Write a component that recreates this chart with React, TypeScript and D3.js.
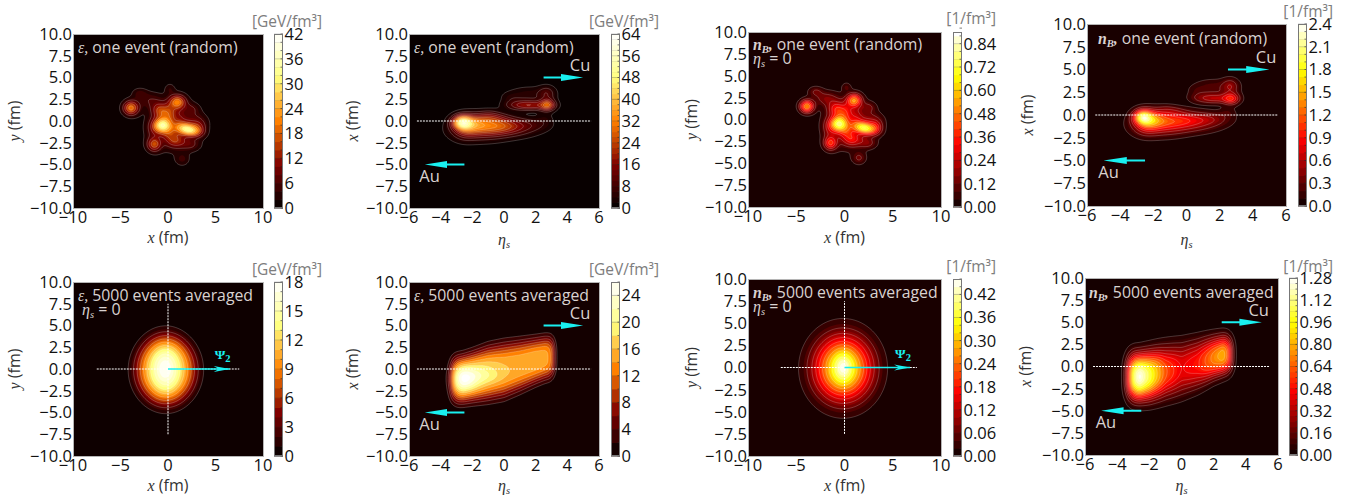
import React from "react";
import * as d3 from "d3";

// ---- DATA ----
// blobs: [x, y, sigmaX, sigmaY, peak, rotationDeg]
const epsEventXY = [
  [-3.9, 1.5, 0.54, 0.54, 21, 0], [-0.6, -0.5, 0.6, 0.58, 30, 0], [1.0, 2.2, 0.58, 0.52, 20, 0],
  [2.1, -1.0, 0.85, 0.42, 30, -15], [-0.8, 1.2, 0.62, 0.55, 13, -30], [0.2, 0.9, 0.45, 0.75, 8, 0],
  [-1.45, -2.7, 0.48, 0.52, 16, 0], [3.3, -0.8, 0.5, 0.55, 6, 0], [1.5, -4.4, 0.5, 0.5, 4.5, 0],
  [0.2, 3.7, 0.35, 0.4, 4, 0], [-3.0, 3.2, 0.55, 0.4, 4.5, 0], [-1.9, 2.4, 0.9, 0.6, 5, 0],
  [0.8, -2.3, 0.7, 0.55, 10, 0], [2.4, -2.7, 0.7, 0.5, 6, 0], [0.2, -1.4, 0.5, 0.55, 6, 0],
  [2.5, 1.4, 0.55, 0.45, 5, 0], [-1.6, -1.0, 0.45, 0.8, 4, 0], [1.2, 0.3, 0.45, 0.9, 4, 0],
  [0.3, -0.5, 1.7, 1.9, 6.5, 0], [2.8, -0.1, 0.9, 0.7, 6, 0],
];
const nbEventXY = [
  [-3.9, 1.5, 0.46, 0.46, 0.58, 0], [-0.6, -0.5, 0.58, 0.6, 0.66, 0], [1.0, 2.2, 0.5, 0.48, 0.52, 0],
  [2.1, -1.0, 0.82, 0.42, 0.66, -15], [-0.8, 1.2, 0.62, 0.55, 0.28, -30], [0.2, 0.9, 0.42, 0.7, 0.14, 0],
  [-1.45, -2.7, 0.44, 0.5, 0.38, 0], [3.3, -0.8, 0.45, 0.48, 0.18, 0], [1.5, -4.4, 0.46, 0.46, 0.14, 0],
  [0.2, 3.7, 0.3, 0.32, 0.1, 0], [-3.0, 3.2, 0.5, 0.36, 0.13, 0], [-1.9, 2.4, 0.85, 0.55, 0.15, 0],
  [0.8, -2.3, 0.65, 0.5, 0.24, 0], [2.4, -2.7, 0.62, 0.42, 0.14, 0], [0.2, -1.4, 0.45, 0.5, 0.16, 0],
  [2.5, 1.4, 0.5, 0.4, 0.12, 0], [-1.6, -1.0, 0.42, 0.75, 0.12, 0], [1.2, 0.3, 0.42, 0.85, 0.1, 0],
  [0.3, -0.5, 1.55, 1.75, 0.19, 0], [2.8, -0.1, 0.85, 0.62, 0.12, 0],
];
const epsEventEtaX = [
  [-2.65, -0.15, 0.4, 0.5, 38, 0], [-2.5, -0.7, 0.5, 0.85, 12, 0], [-1.9, -0.3, 0.6, 0.72, 16, 0],
  [-0.9, -0.45, 0.85, 0.75, 16, 0], [0.3, -0.5, 0.9, 0.62, 11, 0], [-1.6, -1.1, 1.2, 0.85, 9, 0],
  [0.6, -0.9, 1.2, 0.7, 6, 0], [2.0, -0.4, 0.7, 0.5, 4, 0], [2.6, 0.3, 0.35, 0.5, 3, 0],
  [-0.8, 0.4, 0.6, 0.35, 7, 0], [2.75, 1.85, 0.3, 0.42, 24, 0], [1.7, 1.8, 0.8, 0.36, 18, 0],
  [0.7, 1.9, 0.55, 0.42, 5, 0], [2.7, 3.2, 0.35, 0.55, 8, 0], [1.6, 3.05, 0.95, 0.62, 5, 0],
  [0.4, 2.75, 0.4, 0.35, 2.5, 0], [-0.9, 1.0, 0.45, 0.28, 3, 0],
];
const nbEventEtaX = [
  [-2.65, -0.2, 0.36, 0.5, 1.4, 0], [-2.5, -0.8, 0.48, 0.85, 0.55, 0], [-2.0, -0.5, 0.55, 0.72, 0.7, 0],
  [-1.1, -0.6, 0.8, 0.75, 0.45, 0], [0.1, -0.5, 0.9, 0.62, 0.4, 0], [-1.6, -1.15, 1.2, 0.9, 0.4, 0],
  [0.6, -0.95, 1.2, 0.72, 0.3, 0], [1.6, -0.4, 0.8, 0.5, 0.26, 0], [2.5, 0.3, 0.35, 0.4, 0.16, 0],
  [-0.8, 0.45, 0.55, 0.3, 0.2, 0], [2.7, 1.8, 0.33, 0.42, 0.85, 0], [1.7, 1.8, 0.7, 0.36, 0.6, 0],
  [0.7, 1.95, 0.45, 0.38, 0.18, 0], [2.65, 3.2, 0.33, 0.55, 0.42, 0], [1.6, 3.0, 0.9, 0.65, 0.26, 0],
  [0.6, 2.75, 0.32, 0.28, 0.08, 0], [-1.2, 0.8, 0.4, 0.25, 0.12, 0],
];
// averaged transverse ellipses: [x0, y0, widthX, widthY, peak, power]
const epsAvgXY = [[-0.22, -0.1, 3.17, 3.95, 11, 4], [-0.3, 0, 1.6, 2.7, 7, 2]];
const nbAvgXY = [[-0.15, -0.1, 2.9, 3.55, 0.36, 2.3], [-0.15, 0, 0.9, 1.6, 0.1, 2]];
// averaged longitudinal bands, read at stations along eta_s
const bandEta = [-3.8, -3.5, -3.3, -3.1, -2.9, -2.6, -2, -1, 0, 1, 2, 2.6, 2.85, 3.05, 3.25, 3.5];
const epsBandCenter = [-1.2, -1.2, -1.2, -1.2, -1.2, -1.15, -0.9, -0.45, -0.1, 0.4, 0.95, 1.25, 1.3, 1.35, 1.35, 1.35];
const epsBandWidth = [2.48, 2.48, 2.48, 2.48, 2.48, 2.48, 2.58, 2.8, 2.86, 2.65, 2.4, 2.3, 2.28, 2.25, 2.2, 2.2];
const epsBandPeak = [0, 2.5, 8, 14, 18, 20, 19, 17.5, 16, 15.5, 15.5, 15, 14, 10, 3, 0];
const epsAvgHot = [[-2.5, -1.15, 0.55, 0.85, 6.5, 0], [-1.4, -0.7, 0.8, 0.65, 3, 0]];
const nbBandCenter = [-1.15, -1.15, -1.15, -1.15, -1.15, -1.15, -1.0, -0.6, -0.25, 0.3, 1.0, 1.3, 1.35, 1.35, 1.35, 1.35];
const nbBandWidth = [2.34, 2.34, 2.34, 2.34, 2.34, 2.34, 2.45, 2.6, 2.65, 2.45, 2.1, 1.96, 1.92, 1.9, 1.9, 1.9];
const nbBandPeak = [0, 0.15, 0.5, 0.85, 1.15, 1.28, 1.05, 0.62, 0.43, 0.5, 0.72, 0.82, 0.68, 0.38, 0.1, 0];

const ticksTransverse = [-10, -5, 0, 5, 10];
const ticksEta = [-6, -4, -2, 0, 2, 4, 6];
const ticksVertical = [-10, -7.5, -5, -2.5, 0, 2.5, 5, 7.5, 10];

const barTicks1 = [0, 6, 12, 18, 24, 30, 36, 42];
const barTicks2 = [0, 8, 16, 24, 32, 40, 48, 56, 64];
const barTicks3 = [0, 0.12, 0.24, 0.36, 0.48, 0.6, 0.72, 0.84];
const barTicks4 = [0, 0.3, 0.6, 0.9, 1.2, 1.5, 1.8, 2.1, 2.4];
const barTicks5 = [0, 3, 6, 9, 12, 15, 18];
const barTicks6 = [0, 4, 8, 12, 16, 20, 24];
const barTicks7 = [0, 0.06, 0.12, 0.18, 0.24, 0.3, 0.36, 0.42];
const barTicks8 = [0, 0.16, 0.32, 0.48, 0.64, 0.8, 0.96, 1.12, 1.28];

const gaussians = (blobs: number[][]) => (x: number, y: number) => {
  let v = 0;
  for (const [x0, y0, sx, sy, peak, rot] of blobs) {
    const a = (rot * Math.PI) / 180;
    const u = (x - x0) * Math.cos(a) + (y - y0) * Math.sin(a);
    const w = -(x - x0) * Math.sin(a) + (y - y0) * Math.cos(a);
    v += peak * Math.exp(-0.5 * (u * u) / (sx * sx) - 0.5 * (w * w) / (sy * sy));
  }
  return v;
};
const ellipses = (parts: number[][]) => (x: number, y: number) => {
  let v = 0;
  for (const [x0, y0, wx, wy, peak, p] of parts) v += peak * Math.exp(-Math.pow(Math.hypot((x - x0) / wx, (y - y0) / wy), p));
  return v;
};
const band = (center: number[], width: number[], peak: number[], p: number, extra: number[][] = []) => {
  const c = d3.scaleLinear(bandEta, center).clamp(true);
  const w = d3.scaleLinear(bandEta, width).clamp(true);
  const a = d3.scaleLinear(bandEta, peak).clamp(true);
  const more = gaussians(extra);
  return (x: number, y: number) => a(x) * Math.exp(-Math.pow(Math.abs((y - c(x)) / w(x)), p)) + more(x, y);
};

const hot = (t: number) => {
  const r = Math.min(1, 0.0416 + t / 0.365 * 0.9584);
  const g = Math.max(0, Math.min(1, (t - 0.365) / 0.381));
  const b = Math.max(0, Math.min(1, (t - 0.746) / 0.254));
  return d3.rgb(r * 255, g * 255, b * 255).formatHex();
};
const afmhot = (t: number) => {
  const c = (v: number) => Math.max(0, Math.min(1, v)) * 255;
  return d3.rgb(c(2 * t), c(2 * t - 0.5), c(2 * t - 1)).formatHex();
};

type Panel = {
  left: number; right: number; top: number; bottom: number; barL: number; barR: number;
  xDomain: number[]; xTicks: number[]; ticks: number[]; vmax: number; step: number; lineEvery: number;
  cmap: (t: number) => string; field: (x: number, y: number) => number; fmt: string;
  unit: string; unitRight: number; unitY: number; xLabel: "x" | "eta"; yLabel: string; yLabelX: number; xLabelY: number;
  title: React.ReactNode; sub?: boolean; titleX: number; titleY: number; subX?: number;
  guides: "none" | "h" | "cross"; hFrom?: number; psi?: number; arrows?: boolean;
};

const GeV = "[GeV/fm³]";
const inv = "[1/fm³]";
const mathFont = "'Liberation Serif','DejaVu Serif',serif";
const eps = <tspan fontFamily={mathFont} fontStyle="italic">ε,</tspan>;
const nB = (
  <tspan fontFamily={mathFont} fontStyle="italic" fontWeight="bold">
    n<tspan fontSize="10.5" dy="3">B</tspan><tspan dy="-3">,</tspan>
  </tspan>
);

const panels: Panel[] = [
  { left: 73, right: 263, top: 34, bottom: 208, barL: 274, barR: 283, xDomain: [-10, 10], xTicks: ticksTransverse, ticks: barTicks1, vmax: 42, step: 2, lineEvery: 2, cmap: afmhot, field: gaussians(epsEventXY), fmt: "d", unit: GeV, unitRight: 322, unitY: 27, xLabel: "x", yLabel: "y", yLabelX: 20, xLabelY: 243, title: <>{eps}{" one event (random)"}</>, titleX: 78, titleY: 53, guides: "none" },
  { left: 409, right: 599, top: 34, bottom: 208, barL: 611, barR: 620, xDomain: [-6, 6], xTicks: ticksEta, ticks: barTicks2, vmax: 64, step: 2, lineEvery: 2, cmap: afmhot, field: gaussians(epsEventEtaX), fmt: "d", unit: GeV, unitRight: 659, unitY: 27, xLabel: "eta", yLabel: "x", yLabelX: 358, xLabelY: 245, title: <>{eps}{" one event (random)"}</>, titleX: 414, titleY: 53, guides: "h", arrows: true },
  { left: 748, right: 941, top: 32, bottom: 207, barL: 953, barR: 962, xDomain: [-10, 10], xTicks: ticksTransverse, ticks: barTicks3, vmax: 0.9, step: 0.04, lineEvery: 2, cmap: hot, field: gaussians(nbEventXY), fmt: ".2f", unit: inv, unitRight: 996, unitY: 24, xLabel: "x", yLabel: "y", yLabelX: 697, xLabelY: 243, title: <>{nB}{" one event (random)"}</>, sub: true, titleX: 753, titleY: 50, guides: "none" },
  { left: 1087, right: 1286, top: 24, bottom: 206, barL: 1298, barR: 1307, xDomain: [-6, 6], xTicks: ticksEta, ticks: barTicks4, vmax: 2.4, step: 0.1, lineEvery: 2, cmap: hot, field: gaussians(nbEventEtaX), fmt: ".1f", unit: inv, unitRight: 1333, unitY: 17, xLabel: "eta", yLabel: "x", yLabelX: 1033, xLabelY: 245, title: <>{nB}{" one event (random)"}</>, titleX: 1098, titleY: 44, guides: "h", arrows: true },
  { left: 73, right: 263, top: 282, bottom: 456, barL: 274, barR: 283, xDomain: [-10, 10], xTicks: ticksTransverse, ticks: barTicks5, vmax: 18, step: 1, lineEvery: 2, cmap: afmhot, field: ellipses(epsAvgXY), fmt: "d", unit: GeV, unitRight: 322, unitY: 275, xLabel: "x", yLabel: "y", yLabelX: 20, xLabelY: 491, title: <>{eps}{" 5000 events averaged"}</>, sub: true, titleX: 78, titleY: 301, subX: 82, guides: "cross", hFrom: -7.5, psi: 6.5 },
  { left: 409, right: 599, top: 282, bottom: 456, barL: 611, barR: 620, xDomain: [-6, 6], xTicks: ticksEta, ticks: barTicks6, vmax: 26, step: 2, lineEvery: 1, cmap: afmhot, field: band(epsBandCenter, epsBandWidth, epsBandPeak, 3, epsAvgHot), fmt: "d", unit: GeV, unitRight: 659, unitY: 275, xLabel: "eta", yLabel: "x", yLabelX: 358, xLabelY: 491, title: <>{eps}{" 5000 events averaged"}</>, titleX: 414, titleY: 301, guides: "h", arrows: true },
  { left: 748, right: 941, top: 279, bottom: 456, barL: 953, barR: 962, xDomain: [-10, 10], xTicks: ticksTransverse, ticks: barTicks7, vmax: 0.46, step: 0.02, lineEvery: 2, cmap: hot, field: ellipses(nbAvgXY), fmt: ".2f", unit: inv, unitRight: 996, unitY: 272, xLabel: "x", yLabel: "y", yLabelX: 697, xLabelY: 491, title: <>{nB}{" 5000 events averaged"}</>, sub: true, titleX: 753, titleY: 298, guides: "cross", hFrom: -6.6, psi: 6.8 },
  { left: 1085, right: 1278, top: 278, bottom: 455, barL: 1289, barR: 1298, xDomain: [-6, 6], xTicks: ticksEta, ticks: barTicks8, vmax: 1.28, step: 0.04, lineEvery: 2, cmap: hot, field: band(nbBandCenter, nbBandWidth, nbBandPeak, 2.5), fmt: ".2f", unit: inv, unitRight: 1333, unitY: 272, xLabel: "eta", yLabel: "x", yLabelX: 1031, xLabelY: 491, title: <>{nB}{" 5000 events averaged"}</>, titleX: 1089, titleY: 298, guides: "h", arrows: true },
];

const sans = "'Open Sans','Noto Sans',sans-serif";
const GRID = 220;
const labelGrey = "#7d7d7d";
const inPlot = "#d9d2d0";
const cyan = "#19f0f0";
const TICK = 16.5;

const tickFmt = (v: number) => (Number.isInteger(v) ? String(v) : v.toFixed(1)).replace("-", "\u2212");
const vertFmt = (v: number) => v.toFixed(1).replace("-", "\u2212");

function FancyArrow({ x0, x1, y }: { x0: number; x1: number; y: number }) {
  const hb = x0 + (x1 - x0) * 0.44;
  const pts = [[x0, y - 0.9], [hb, y - 0.9], [hb, y - 3.4], [x1, y], [hb, y + 3.4], [hb, y + 0.9], [x0, y + 0.9]];
  return <polygon points={pts.map((p) => p.join(",")).join(" ")} fill={cyan} />;
}

function Heat({ p, index }: { p: Panel; index: number }) {
  const xs = d3.scaleLinear(p.xDomain, [p.left, p.right]);
  const ys = d3.scaleLinear([-10, 10], [p.bottom, p.top]);
  const bar = d3.scaleLinear([0, p.vmax], [p.bottom, p.top]);
  const gx = d3.scaleLinear([0, GRID], p.xDomain);
  const gy = d3.scaleLinear([0, GRID], [-10, 10]);
  const values = new Float64Array(GRID * GRID);
  for (let j = 0; j < GRID; j++) for (let i = 0; i < GRID; i++) values[j * GRID + i] = p.field(gx(i + 0.5), gy(j + 0.5));
  d3.blur2({ data: values, width: GRID, height: GRID }, 1.2);
  const count = Math.round(p.vmax / p.step);
  const thresholds = d3.range(1, count + 1).map((i) => i * p.step);
  const contours = d3.contours().size([GRID, GRID]).thresholds(thresholds)(values as any);
  const path = d3.geoPath(
    d3.geoTransform({
      point(x: number, y: number) {
        (this as any).stream.point(xs(gx(x)), ys(gy(y)));
      },
    })
  );
  const colorAt = (i: number) => p.cmap(((i + 0.5) * p.step) / p.vmax);
  const clipId = `clip${index}`;
  const fmtBar = d3.format(p.fmt);
  return (
    <g fontFamily={sans}>
      <defs>
        <clipPath id={clipId}><rect x={p.left} y={p.top} width={p.right - p.left} height={p.bottom - p.top} /></clipPath>
      </defs>
      <rect x={p.left} y={p.top} width={p.right - p.left} height={p.bottom - p.top} fill={colorAt(0)} />
      <g clipPath={`url(#${clipId})`}>
        {contours.map((c, i) => <path key={i} d={path(c) || ""} fill={colorAt(i + 1)} />)}
        {contours.map((c, i) =>
          i % p.lineEvery === 0 ? (
            <path key={i} d={path(c) || ""} fill="none" stroke="#fff" strokeOpacity={0.36} strokeWidth={0.6} />
          ) : null
        )}
      </g>
      <rect x={p.left + 0.5} y={p.top + 0.5} width={p.right - p.left} height={p.bottom - p.top} fill="none" stroke="#b5b5b5" strokeWidth={1} />

      {p.guides !== "none" && (
        <line x1={xs(p.hFrom ?? -5.5)} x2={xs(p.guides === "cross" ? 7.5 : 5.5)} y1={ys(0)} y2={ys(0)} stroke="#fff" strokeWidth={1} strokeDasharray="2 1" />
      )}
      {p.guides === "cross" && (
        <line x1={xs(0)} x2={xs(0)} y1={ys(-7.5)} y2={ys(7.5)} stroke="#fff" strokeWidth={1} strokeDasharray="2 1" />
      )}
      {p.psi && (
        <g>
          <line x1={xs(0)} x2={xs(p.psi)} y1={ys(0)} y2={ys(0)} stroke={cyan} strokeWidth={1.4} />
          <polygon
            points={`${xs(p.psi) - 16},${ys(0) - 3} ${xs(p.psi)},${ys(0)} ${xs(p.psi) - 16},${ys(0) + 3} ${xs(p.psi) - 11},${ys(0)}`}
            fill={cyan}
          />
          <text x={xs(p.psi) - 15} y={ys(0) - 10} fontFamily={mathFont} fontSize="13.5" fontWeight="bold" fill={cyan}>
            Ψ<tspan fontSize="10.5" dy="3">2</tspan>
          </text>
        </g>
      )}
      {p.arrows && (
        <g>
          <FancyArrow x0={xs(2.5)} x1={xs(5)} y={ys(5)} />
          <FancyArrow x0={xs(-2.5)} x1={xs(-5)} y={ys(-5)} />
          <text x={xs(4.8)} y={ys(6.4)} fontSize={TICK} fill={inPlot} textAnchor="middle" dy="0.35em">Cu</text>
          <text x={xs(-4.7)} y={ys(-6.3)} fontSize={TICK} fill={inPlot} textAnchor="middle" dy="0.35em">Au</text>
        </g>
      )}

      <text x={p.titleX} y={p.titleY} fontSize="15.8" fill={inPlot}>{p.title}</text>
      {p.sub && (
        <text x={p.subX ?? p.titleX} y={p.titleY + 14} fontSize="16" fill={inPlot}>
          <tspan fontFamily={mathFont} fontStyle="italic">η<tspan fontSize="10.5" dy="3">s</tspan></tspan>
          <tspan dy="-3">{" = 0"}</tspan>
        </text>
      )}

      {p.xTicks.map((t) => (
        <text key={t} x={xs(t)} y={p.bottom + 15} fontSize={TICK} fill="#111" textAnchor="middle">{tickFmt(t)}</text>
      ))}
      {ticksVertical.map((t) => (
        <text key={t} x={p.left - 1} y={ys(t)} dy="0.36em" fontSize={TICK} fill="#111" textAnchor="end">{vertFmt(t)}</text>
      ))}
      <text x={(p.left + p.right) / 2} y={p.xLabelY} fontSize="16" fill="#333" textAnchor="middle">
        {p.xLabel === "x" ? (
          <>
            <tspan fontFamily={mathFont} fontStyle="italic">x</tspan>{" (fm)"}
          </>
        ) : (
          <tspan fontFamily={mathFont} fontStyle="italic">η<tspan fontSize="10.5" dy="3">s</tspan></tspan>
        )}
      </text>
      <text transform={`translate(${p.yLabelX},${(p.top + p.bottom) / 2}) rotate(-90)`} fontSize="16" fill="#333" textAnchor="middle">
        <tspan fontFamily={mathFont} fontStyle="italic">{p.yLabel}</tspan>{" (fm)"}
      </text>

      <rect x={p.barL} y={p.top} width={p.barR - p.barL} height={p.bottom - p.top} fill={colorAt(0)} />
      {d3.range(0, count).map((i) => (
        <rect key={i} x={p.barL} y={bar(Math.min(p.vmax, (i + 1) * p.step))} width={p.barR - p.barL} height={Math.abs(bar(i * p.step) - bar(Math.min(p.vmax, (i + 1) * p.step))) + 0.4} fill={colorAt(i)} />
      ))}
      {d3.range(0, count + 1).map((i) => (
        <line key={i} x1={p.barR - 2.5} x2={p.barR} y1={bar(i * p.step)} y2={bar(i * p.step)} stroke="#222" strokeWidth={0.6} />
      ))}
      {p.ticks.map((t) => (
        <g key={t}>
          <line x1={p.barL} x2={p.barR} y1={bar(t)} y2={bar(t)} stroke="#222" strokeOpacity={0.35} strokeWidth={0.6} />
          <text x={p.barR + 1.5} y={bar(t)} dy="0.36em" fontSize={TICK} fill="#111">{fmtBar(t)}</text>
        </g>
      ))}
      <rect x={p.barL + 0.5} y={p.top + 0.5} width={p.barR - p.barL - 1} height={p.bottom - p.top - 1} fill="none" stroke="#777" strokeWidth={1} />
      <text x={p.unitRight} y={p.unitY} fontSize="15.5" fill={labelGrey} textAnchor="end">{p.unit}</text>
    </g>
  );
}

export default function App() {
  return (
    <svg width={1370} height={502} style={{ position: "absolute", left: 0, top: 0, background: "#fff" }}>
      {panels.map((p, i) => <Heat key={i} p={p} index={i} />)}
    </svg>
  );
}
